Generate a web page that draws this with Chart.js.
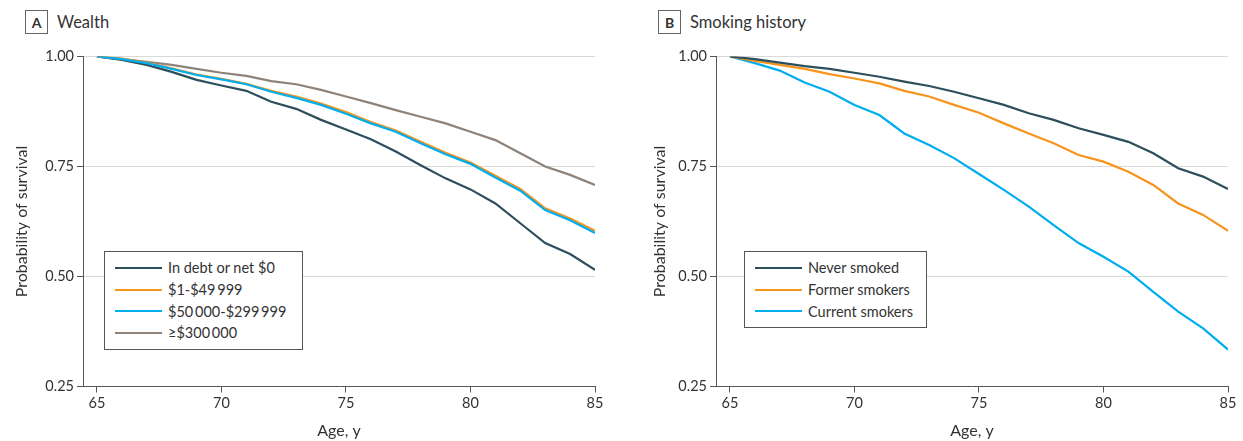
<!DOCTYPE html>
<html>
<head>
<meta charset="utf-8">
<script src="https://cdn.jsdelivr.net/npm/chart.js@4.4.1/dist/chart.umd.min.js"></script>
<style>
  html, body { margin: 0; padding: 0; background: #fff; }
  body { width: 1243px; height: 441px; position: relative; overflow: hidden; font-family: Lato, "Liberation Sans", sans-serif; color: #333; }
  .cv { position: absolute; top: 0; }
  .ptitle { position: absolute; top: 10px; height: 24px; display: flex; align-items: center; font-size: 16.5px; color: #333; }
  .pbox { width: 21px; height: 22px; border: 1px solid #666; display: flex; align-items: center; justify-content: center; font-weight: bold; font-size: 14px; margin-right: 9px; box-sizing: content-box; }
  .legend { position: absolute; border: 1px solid #555; background: #fff; padding: 5px 0 5px 0; }
  .legend .row { display: flex; align-items: center; height: 21.7px; font-size: 14.5px; color: #333; white-space: nowrap; }
  .legend .sw { width: 47px; height: 2px; margin-left: 10px; margin-right: 6px; }
</style>
</head>
<body>
<div class="ptitle" style="left:25px;"><div class="pbox">A</div>Wealth</div>
<div class="ptitle" style="left:658px;"><div class="pbox">B</div>Smoking history</div>
<canvas id="cA" class="cv" style="left:0px;" width="621" height="441"></canvas>
<canvas id="cB" class="cv" style="left:638px;" width="605" height="441"></canvas>
<div id="legA" class="legend" style="left:104px; top:251px; width:197px;"></div>
<div id="legB" class="legend" style="left:744px; top:251px; width:181px;"></div>
<script>
// ---- Data ----
const AGES = [65,66,67,68,69,70,71,72,73,74,75,76,77,78,79,80,81,82,83,84,85];
const X_TICKS = [65,70,75,80,85];
const Y_TICKS = [0.25,0.50,0.75,1.00];

// Panel A: Wealth
const WEALTH_LABELS = ["In debt or net $0", "$1-$49\u2009999", "$50\u2009000-$299\u2009999", "\u2265$300\u2009000"];
const wealthDebt   = [1.000,0.992,0.981,0.965,0.947,0.934,0.922,0.897,0.881,0.856,0.834,0.812,0.784,0.753,0.723,0.698,0.666,0.621,0.576,0.551,0.515];
const wealthLow    = [1.000,0.995,0.986,0.973,0.959,0.949,0.938,0.922,0.909,0.893,0.874,0.851,0.832,0.806,0.781,0.759,0.729,0.699,0.655,0.632,0.604];
const wealthMid    = [1.000,0.994,0.985,0.972,0.958,0.948,0.937,0.920,0.906,0.890,0.870,0.848,0.829,0.803,0.778,0.756,0.725,0.695,0.651,0.628,0.599];
const wealthHigh   = [1.000,0.994,0.988,0.981,0.972,0.963,0.956,0.944,0.937,0.924,0.909,0.894,0.878,0.863,0.848,0.829,0.810,0.780,0.750,0.731,0.708];

// Panel B: Smoking history
const SMOKING_LABELS = ["Never smoked", "Former smokers", "Current smokers"];
const smokeNever   = [1.000,0.994,0.986,0.978,0.972,0.963,0.954,0.943,0.933,0.920,0.905,0.890,0.871,0.856,0.837,0.822,0.806,0.780,0.746,0.727,0.699];
const smokeFormer  = [1.000,0.990,0.981,0.972,0.960,0.950,0.939,0.922,0.909,0.890,0.872,0.848,0.825,0.803,0.776,0.761,0.738,0.708,0.666,0.640,0.604];
const smokeCurrent = [1.000,0.985,0.968,0.941,0.920,0.890,0.867,0.825,0.799,0.769,0.733,0.697,0.659,0.617,0.576,0.545,0.511,0.465,0.420,0.382,0.334];

// ---- Styles ----
const C_DARK = "#2c4f5c", C_ORANGE = "#f7941d", C_BLUE = "#00aeef", C_GRAY = "#8e8279";
const AXIS = "#555555", GRID = "#d9d9d9", TXT = "#333333";
const FONT = "Lato, 'Liberation Sans', sans-serif";

function pts(vals) { return AGES.map((a, i) => ({ x: a, y: vals[i] })); }

function makeChart(id, datasets, yWidth, padRight) {
  return new Chart(document.getElementById(id), {
    type: 'line',
    data: { datasets: datasets.map(d => ({
      label: d.label, data: pts(d.values), borderColor: d.color, backgroundColor: d.color,
      borderWidth: 2.2, pointRadius: 0, tension: 0, fill: false, order: d.order
    })) },
    options: {
      responsive: false, animation: false,
      layout: { padding: { top: 56.5, right: padRight, left: 0, bottom: 0 } },
      plugins: { legend: { display: false }, tooltip: { enabled: false } },
      scales: {
        x: {
          type: 'linear', min: 64.44, max: 85,
          afterBuildTicks: s => { s.ticks = X_TICKS.map(v => ({ value: v })); },
          afterFit: s => { s.height = 54.5; },
          grid: { drawOnChartArea: false, drawTicks: true, tickLength: 6, tickColor: AXIS, tickWidth: 1 },
          border: { display: true, color: AXIS, width: 1 },
          ticks: { color: TXT, font: { family: FONT, size: 14.5 }, padding: 2, maxRotation: 0 },
          title: { display: true, text: 'Age, y', color: TXT, font: { family: FONT, size: 16 }, padding: { top: 0, bottom: 1 } }
        },
        y: {
          type: 'linear', min: 0.25, max: 1.0,
          afterBuildTicks: s => { s.ticks = Y_TICKS.map(v => ({ value: v })); },
          afterFit: s => { s.width = yWidth; },
          grid: {
            drawOnChartArea: true, drawTicks: true, tickLength: 6, tickColor: AXIS, tickWidth: 1,
            color: c => (c.tick && c.tick.value === 0.25) ? 'rgba(0,0,0,0)' : GRID, lineWidth: 1
          },
          border: { display: true, color: AXIS, width: 1 },
          ticks: { color: TXT, font: { family: FONT, size: 14.5 }, padding: 3, callback: v => v.toFixed(2) },
          title: { display: true, text: 'Probability of survival', color: TXT, font: { family: FONT, size: 16 }, padding: { top: 12, bottom: 0 } }
        }
      }
    }
  });
}

const dsA = [
  { label: WEALTH_LABELS[0], values: wealthDebt, color: C_DARK, order: 3 },
  { label: WEALTH_LABELS[1], values: wealthLow,  color: C_ORANGE, order: 2 },
  { label: WEALTH_LABELS[2], values: wealthMid,  color: C_BLUE, order: 1 },
  { label: WEALTH_LABELS[3], values: wealthHigh, color: C_GRAY, order: 4 }
];
const dsB = [
  { label: SMOKING_LABELS[0], values: smokeNever,   color: C_DARK, order: 1 },
  { label: SMOKING_LABELS[1], values: smokeFormer,  color: C_ORANGE, order: 2 },
  { label: SMOKING_LABELS[2], values: smokeCurrent, color: C_BLUE, order: 3 }
];

makeChart('cA', dsA, 83, 26);
makeChart('cB', dsB, 78, 15);

function buildLegend(id, ds) {
  const el = document.getElementById(id);
  ds.forEach(d => {
    const row = document.createElement('div'); row.className = 'row';
    const sw = document.createElement('div'); sw.className = 'sw'; sw.style.background = d.color;
    const tx = document.createElement('span'); tx.textContent = d.label;
    row.appendChild(sw); row.appendChild(tx); el.appendChild(row);
  });
}
buildLegend('legA', dsA);
buildLegend('legB', dsB);
</script>
</body>
</html>
